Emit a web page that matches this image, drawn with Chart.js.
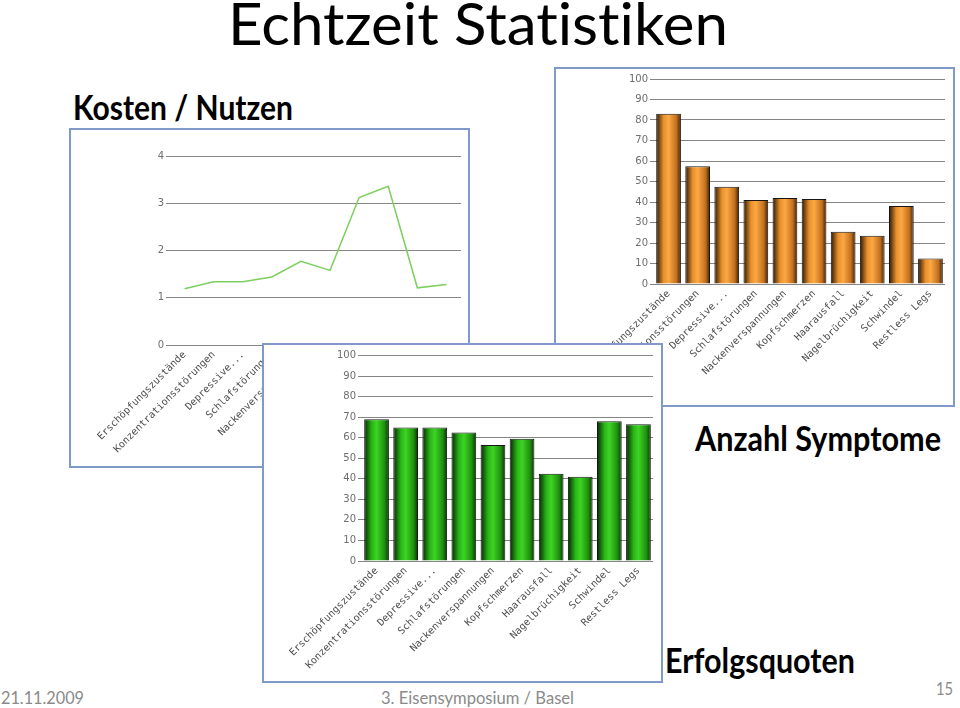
<!DOCTYPE html>
<html><head><meta charset="utf-8">
<script src="https://cdn.jsdelivr.net/npm/chart.js@4/dist/chart.umd.min.js"></script>
<style>
html,body{margin:0;padding:0;background:#fff;width:960px;height:708px;overflow:hidden;position:relative;font-family:Lato,sans-serif}
.panel{position:absolute;box-sizing:border-box;width:401px;height:340px;border:2px solid #7f99c8;background:#fff}
.panel canvas{display:block}
.txt{position:absolute;white-space:nowrap;line-height:1;transform-origin:0 0;color:#000;font-variant-ligatures:none}
.head{font-weight:700;font-size:34px}
.foot{font-size:17px;color:#8a8a8a}
</style></head><body>

<div class="txt" id="title" style="left:228px;top:-6px;font-size:58px" data-w="500">Echtzeit Statistiken</div>
<div class="txt head" style="left:73px;top:90px" data-w="220">Kosten / Nutzen</div>
<div class="txt head" style="left:695px;top:421px" data-w="246">Anzahl Symptome</div>
<div class="txt head" style="left:665px;top:643px" data-w="190">Erfolgsquoten</div>
<div class="txt foot" style="left:1px;top:689px" data-w="83">21.11.2009</div>
<div class="txt foot" style="left:381px;top:689px" data-w="193">3. Eisensymposium / Basel</div>
<div class="txt foot" style="left:936px;top:680px" data-w="17">15</div>

<div class="panel" style="left:69px;top:128px;z-index:1"><canvas id="lineChart" width="397" height="336"></canvas></div>
<div class="panel" style="left:554px;top:67px;z-index:2"><canvas id="orangeChart" width="397" height="336"></canvas></div>
<div class="panel" style="left:262px;top:343px;z-index:3"><canvas id="greenChart" width="397" height="336"></canvas></div>

<script>
// ---- data ----
const categories = ['Erschöpfungszustände','Konzentrationsstörungen','Depressive...','Schlafstörungen','Nackenverspannungen','Kopfschmerzen','Haarausfall','Nagelbrüchigkeit','Schwindel','Restless Legs'];
const symptomCounts = [83, 57.5, 47.5, 41, 42, 41.5, 25.5, 23.5, 38, 12.5];   // Anzahl Symptome
const successRates  = [69, 65, 65, 62.5, 56.5, 59.5, 42.5, 41, 68, 66.5];      // Erfolgsquoten
const costBenefit   = [1.19, 1.34, 1.34, 1.44, 1.77, 1.58, 3.12, 3.36, 1.21, 1.28]; // Kosten / Nutzen
const barTickValues  = [0, 10, 20, 30, 40, 50, 60, 70, 80, 90, 100];
const lineTickValues = [0, 1, 2, 3, 4];

// ---- styling ----
const BAR_PCT = 0.85;
const orangeStops = ['#2a1603', '#e8902c', '#fca843', '#c2701f', '#3a1d04'];
const greenStops  = ['#052503', '#28b416', '#3ed424', '#1f900f', '#073403'];

// fit slide texts to their measured width
document.querySelectorAll('.txt').forEach(el => {
  const w = el.getBoundingClientRect().width;
  const t = parseFloat(el.dataset.w);
  if (w > 0 && t) el.style.transform = 'scaleX(' + (t / w) + ')';
});

Chart.defaults.animation = false;
Chart.defaults.devicePixelRatio = 1;

function cylinder(stops) {
  return function (ctx) {
    const chart = ctx.chart;
    const xs = chart.scales && chart.scales.x;
    if (!chart.chartArea || !xs || ctx.dataIndex === undefined) return stops[2];
    const n = chart.data.labels.length;
    const bw = (xs.right - xs.left) / n * BAR_PCT;
    const cx = xs.getPixelForValue(ctx.dataIndex);
    const g = chart.ctx.createLinearGradient(cx - bw / 2, 0, cx + bw / 2, 0);
    g.addColorStop(0, stops[0]);
    g.addColorStop(0.3, stops[1]);
    g.addColorStop(0.5, stops[2]);
    g.addColorStop(0.82, stops[3]);
    g.addColorStop(1, stops[4]);
    return g;
  };
}

function axes(tickVals, xHeight, yWidth) {
  return {
    x: {
      offset: true,
      grid: { display: false, drawTicks: false },
      border: { display: false },
      ticks: {
        autoSkip: false, maxRotation: 45, minRotation: 45, padding: 4,
        color: '#4e4e4e', font: { family: 'DejaVu Sans Mono', size: 10 }
      },
      afterFit(s) { s.height = xHeight; }
    },
    y: {
      min: tickVals[0], max: tickVals[tickVals.length - 1],
      afterBuildTicks(s) { s.ticks = tickVals.map(v => ({ value: v })); },
      grid: { color: '#858585', lineWidth: 1, tickLength: 4 },
      border: { display: false },
      ticks: { padding: 2, color: '#6e6e6e', font: { family: 'DejaVu Sans', size: 10 } },
      afterFit(s) { s.width = yWidth; }
    }
  };
}

function barChart(id, values, stops, padTop, xHeight) {
  new Chart(document.getElementById(id), {
    type: 'bar',
    data: {
      labels: categories,
      datasets: [{
        data: values,
        backgroundColor: cylinder(stops),
        borderColor: '#161616',
        borderWidth: 1,
        borderSkipped: 'bottom',
        barPercentage: BAR_PCT,
        categoryPercentage: 1
      }]
    },
    options: {
      responsive: false,
      layout: { padding: { top: padTop, right: 8, left: 0, bottom: 0 } },
      plugins: { legend: { display: false }, tooltip: { enabled: false } },
      scales: axes(barTickValues, xHeight, 98)
    }
  });
}

barChart('orangeChart', symptomCounts, orangeStops, 10, 121);
barChart('greenChart', successRates, greenStops, 10.5, 120);

new Chart(document.getElementById('lineChart'), {
  type: 'line',
  data: {
    labels: categories,
    datasets: [{
      data: costBenefit,
      borderColor: '#7dcf5f',
      borderWidth: 1.5,
      pointRadius: 0,
      tension: 0,
      fill: false
    }]
  },
  options: {
    responsive: false,
    layout: { padding: { top: 26, right: 7, left: 0, bottom: 0 } },
    plugins: { legend: { display: false }, tooltip: { enabled: false } },
    scales: axes(lineTickValues, 121, 99)
  }
});
</script>
</body></html>
